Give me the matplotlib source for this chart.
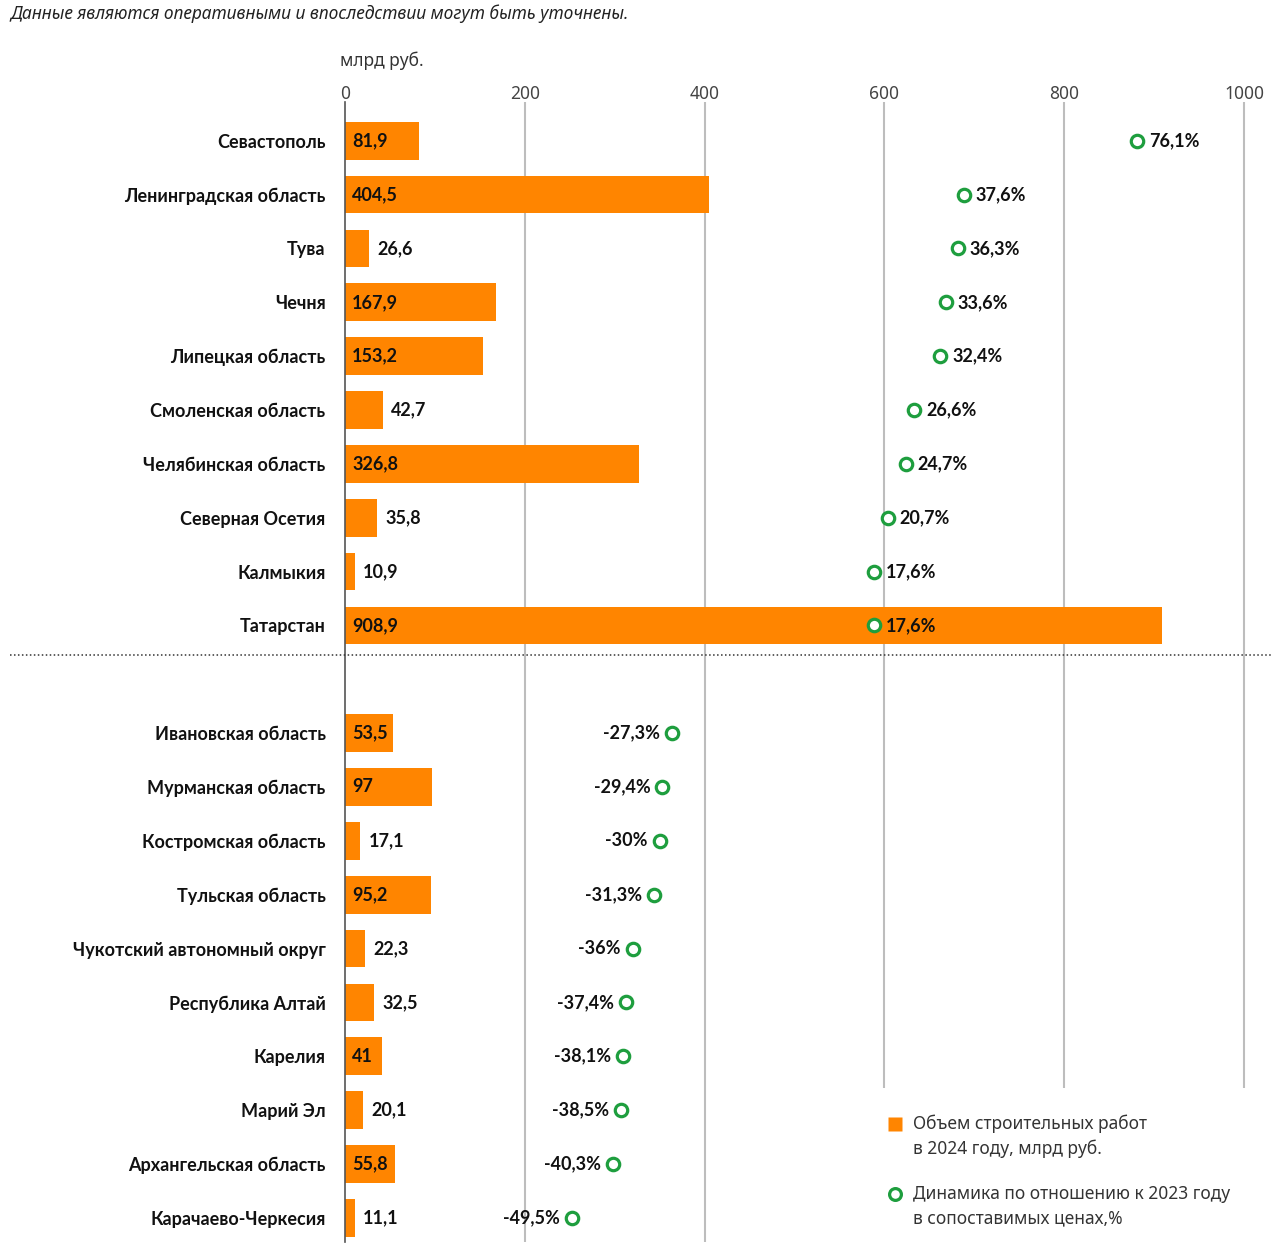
import matplotlib
matplotlib.use("Agg")
import matplotlib.pyplot as plt
from matplotlib.lines import Line2D
from matplotlib.patches import Rectangle
import matplotlib.transforms as mtransforms

plt.rcParams['font.family'] = ['Noto Sans', 'DejaVu Sans']
BOLD = ['Lato', 'DejaVu Sans']

regions_top = ["Севастополь", "Ленинградская область", "Тува", "Чечня", "Липецкая область",
               "Смоленская область", "Челябинская область", "Северная Осетия", "Калмыкия", "Татарстан"]
volume_top = [81.9, 404.5, 26.6, 167.9, 153.2, 42.7, 326.8, 35.8, 10.9, 908.9]
change_top = [76.1, 37.6, 36.3, 33.6, 32.4, 26.6, 24.7, 20.7, 17.6, 17.6]

regions_bot = ["Ивановская область", "Мурманская область", "Костромская область", "Тульская область",
               "Чукотский автономный округ", "Республика Алтай", "Карелия", "Марий Эл",
               "Архангельская область", "Карачаево-Черкесия"]
volume_bot = [53.5, 97, 17.1, 95.2, 22.3, 32.5, 41, 20.1, 55.8, 11.1]
change_bot = [-27.3, -29.4, -30, -31.3, -36, -37.4, -38.1, -38.5, -40.3, -49.5]

x_ticks = [0, 200, 400, 600, 800, 1000]

legend_labels = ["Объем строительных работ\nв 2024 году, млрд руб.",
                 "Динамика по отношению к 2023 году\nв сопоставимых ценах,%"]

ORANGE = "#FF8500"
GREEN = "#1E9E3E"
GRID = "#BDBDBD"
TXT = "#111111"

W, H = 1280, 1254
fig = plt.figure(figsize=(W / 100, H / 100), dpi=100)

ax_left, ax_right = 345, 1272
ax_top, ax_bot = 102, 1242
ax = fig.add_axes([ax_left / W, 1 - ax_bot / H, (ax_right - ax_left) / W, (ax_bot - ax_top) / H])

xmax = 1031
ax.set_xlim(0, xmax)
ax.set_ylim(20.45, -0.72)

pos_top = list(range(10))
pos_bot = list(range(11, 21))
positions = pos_top + pos_bot
names = regions_top + regions_bot
volumes = volume_top + volume_bot
changes = change_top + change_bot


def fmt(v):
    if float(v).is_integer():
        return str(int(v))
    return f"{v:.1f}".replace(".", ",")


# secondary scale for percent change
ax2 = ax.twiny()
ax2.set_xlim(-100, (xmax - 500) / 5.0)
ax2.set_ylim(ax.get_ylim())
ax2.axis("off")

# grid
for t in x_ticks[1:]:
    ax.axvline(t, color=GRID, lw=1.5, zorder=0)

bars = ax.barh(positions, volumes, height=0.7, color=ORANGE, zorder=2)

# spines / ticks
for s in ["right", "bottom", "top"]:
    ax.spines[s].set_visible(False)
ax.spines["left"].set_color("#555555")
ax.spines["left"].set_linewidth(1.2)
ax.spines["left"].set_zorder(4)
ax.xaxis.set_ticks_position("top")
ax.set_xticks(x_ticks)
ax.set_xticklabels([str(t) for t in x_ticks])
ax.tick_params(axis="x", which="both", top=True, bottom=False, labeltop=True, labelbottom=False,
               length=0, pad=-1, labelsize=12.5, labelcolor="#444444")
ax.set_yticks(positions)
ax.set_yticklabels(names)
ax.tick_params(axis="y", length=0, pad=14, labelsize=13, labelcolor=TXT)
for lab in ax.get_yticklabels():
    lab.set_fontweight("bold")
    lab.set_family(BOLD)

ax2.scatter(changes, positions, s=80, facecolor="white", edgecolor=GREEN, linewidths=2.3, zorder=5)

off = mtransforms.offset_copy
for p, c in zip(positions, changes):
    if c >= 0:
        tr = off(ax2.transData, fig=fig, x=12, y=0, units="dots")
        ax2.text(c, p, fmt(c) + "%", transform=tr, ha="left", va="center", family=BOLD,
                 fontsize=13, fontweight="bold", color=TXT, zorder=6)
    else:
        tr = off(ax2.transData, fig=fig, x=-12, y=0, units="dots")
        ax2.text(c, p, fmt(c) + "%", transform=tr, ha="right", va="center", family=BOLD,
                 fontsize=13, fontweight="bold", color=TXT, zorder=6)

# value labels (inside if fits)
fig.canvas.draw()
renderer = fig.canvas.get_renderer()
px_per_unit = (ax_right - ax_left) / xmax
for p, v in zip(positions, volumes):
    t = ax.text(0, p, fmt(v), transform=off(ax.transData, fig=fig, x=7, y=0, units="dots"),
                ha="left", va="center", fontsize=13, fontweight="bold", family=BOLD,
                color=TXT, zorder=6)
    w = t.get_window_extent(renderer).width
    if w + 9 > v * px_per_unit:
        t.set_position((v, p))
        t.set_transform(off(ax.transData, fig=fig, x=8, y=0, units="dots"))

# dotted separator across the figure
sep_y = 1 - 655 / H
fig.add_artist(Line2D([10 / W, 1272 / W], [sep_y, sep_y], transform=fig.transFigure,
                      color="#333333", lw=1.1, linestyle=(0, (1, 1.6)), zorder=10))

# texts
fig.text(10 / W, 1 - 14 / H, "Данные являются оперативными и впоследствии могут быть уточнены.",
         ha="left", va="center", fontsize=12.5, style="italic", color="#222222")
fig.text(340 / W, 1 - 61 / H, "млрд руб.", ha="left", va="center", fontsize=12.5, color="#333333")

# legend (manual, white box covering gridlines)
def fx(px):
    return px / W


def fy(py):
    return 1 - py / H


fig.add_artist(Rectangle((fx(876), fy(1254)), (1280 - 876) / W, (1254 - 1088) / H,
                         transform=fig.transFigure, facecolor="white", edgecolor="none", zorder=15))
fig.add_artist(Line2D([fx(895)], [fy(1124)], transform=fig.transFigure, marker="s", markersize=10.5,
                      markerfacecolor=ORANGE, markeredgecolor="none", linestyle="none", zorder=16))
fig.add_artist(Line2D([fx(895)], [fy(1194)], transform=fig.transFigure, marker="o", markersize=8.5,
                      markerfacecolor="white", markeredgecolor=GREEN, markeredgewidth=2.3,
                      linestyle="none", zorder=16))
for lbl, y0 in zip(legend_labels, [1124, 1194]):
    for i, line in enumerate(lbl.split("\n")):
        fig.text(fx(913), fy(y0 + 24.5 * i), line, ha="left", va="center", fontsize=12.5,
                 color="#333333", zorder=17)

fig.savefig("out.png", dpi=100)
